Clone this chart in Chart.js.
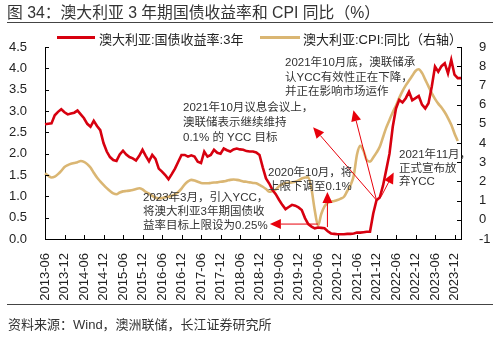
<!DOCTYPE html>
<html>
<head>
<meta charset="utf-8">
<script src="https://cdn.jsdelivr.net/npm/chart.js@4"></script>
<style>
  body { margin: 0; width: 500px; height: 338px; position: relative; background: #fff; overflow: hidden;
         font-family: 'Liberation Sans', 'Noto Sans CJK SC', sans-serif; color: #222; }
  #wrap { position: absolute; left: 0; top: 0; width: 500px; height: 338px; }
  .title { position: absolute; left: 7px; top: 0px; font-size: 15.8px; color: #333; white-space: nowrap; }
  .rule { position: absolute; left: 7px; width: 486px; height: 1px; background: #444; }
  .source { position: absolute; left: 8px; top: 314px; font-size: 13px; color: #333; white-space: nowrap; }
  .leg-line { position: absolute; top: 36px; height: 3px; }
  .leg-text { position: absolute; top: 29px; font-size: 13px; color: #222; white-space: nowrap; }
</style>
</head>
<body>
<div id="wrap"><canvas id="chart" width="500" height="338"></canvas></div>
<div class="title">图 34：澳大利亚 3 年期国债收益率和 CPI 同比（%）</div>
<div class="rule" style="top:22px"></div>
<div class="leg-line" style="left:57px;width:38px;background:#d7000f"></div>
<div class="leg-text" style="left:99px">澳大利亚:国债收益率:3年</div>
<div class="leg-line" style="left:260px;width:40px;background:#dab673"></div>
<div class="leg-text" style="left:303px">澳大利亚:CPI:同比（右轴）</div>
<div class="rule" style="top:304px"></div>
<div class="source">资料来源：Wind，澳洲联储，长江证券研究所</div>
<script>
// 数据：月度，2013-06 至 2024-02
const startYear = 2013, startMonth = 6, monthCount = 129;
const months = [];
for (let i = 0; i < monthCount; i++) {
  const m = startMonth - 1 + i;
  const y = startYear + Math.floor(m / 12);
  months.push(y + '-' + String(m % 12 + 1).padStart(2, '0'));
}

const xTickLabels = ['2013-06','2013-12','2014-06','2014-12','2015-06','2015-12','2016-06','2016-12',
  '2017-06','2017-12','2018-06','2018-12','2019-06','2019-12','2020-06','2020-12','2021-06','2021-12',
  '2022-06','2022-12','2023-06','2023-12'];
const leftTicks = [0, 0.5, 1, 1.5, 2, 2.5, 3, 3.5, 4, 4.5];
const rightTicks = [-1, 0, 1, 2, 3, 4, 5, 6, 7, 8, 9];

// 澳大利亚:国债收益率:3年 (%)
const bondYield = [
  2.69,2.70,2.71,2.90,2.98,3.04,2.97,2.92,2.94,2.96,
  3.01,2.92,2.83,2.70,2.63,2.77,2.65,2.55,2.25,2.05,
  1.92,1.85,1.83,1.98,2.07,1.98,1.92,1.89,1.84,1.95,
  2.09,1.95,1.82,1.97,1.88,1.65,1.58,1.50,1.40,1.52,
  1.65,1.81,1.97,1.97,1.93,1.96,1.93,1.81,1.78,2.05,
  1.93,1.97,2.09,2.02,2.00,2.12,2.08,2.05,2.10,2.12,
  2.10,2.09,2.06,2.05,2.05,2.03,1.97,1.68,1.42,1.30,
  1.15,1.05,0.92,0.80,0.70,0.75,0.80,0.78,0.74,0.68,
  0.49,0.35,0.29,0.25,0.27,0.26,0.25,0.18,0.13,0.12,
  0.11,0.11,0.11,0.12,0.12,0.13,0.15,0.15,0.16,0.17,
  0.17,0.60,0.91,0.97,1.25,1.62,2.00,2.63,3.06,3.26,
  3.20,3.30,3.45,3.25,3.30,3.35,3.15,3.06,3.18,3.57,
  4.04,3.92,4.05,4.12,3.88,4.20,3.85,3.77,3.77
];

// 澳大利亚:CPI:同比 (%)，右轴
const cpiYoY = [
  2.42,2.30,2.20,2.25,2.38,2.55,2.75,2.85,2.92,2.96,
  3.00,3.06,3.02,2.90,2.72,2.45,2.20,2.00,1.82,1.65,
  1.50,1.38,1.33,1.42,1.48,1.50,1.52,1.55,1.60,1.64,
  1.58,1.45,1.36,1.25,1.15,1.12,1.13,1.18,1.20,1.25,
  1.32,1.45,1.62,1.85,2.00,2.08,2.05,1.98,1.92,1.90,
  1.90,1.92,1.94,1.95,1.98,2.00,2.04,2.08,2.10,2.08,
  2.05,2.00,1.98,1.95,1.92,1.90,1.82,1.72,1.60,1.46,
  1.50,1.58,1.75,1.85,1.92,1.93,1.95,1.98,2.05,2.15,
  2.20,2.22,1.60,0.50,-0.30,0.30,0.70,0.88,0.94,0.98,
  1.03,1.10,1.20,1.50,1.80,2.30,3.40,3.85,3.60,3.11,
  3.03,3.25,3.50,3.80,4.30,4.80,5.20,5.60,5.95,6.35,
  6.70,7.00,7.25,7.50,7.75,7.84,7.65,7.30,6.95,6.60,
  6.30,6.05,5.85,5.60,5.30,4.95,4.50,4.10,null
];

// 标注：文字 + 箭头（箭头用月份序号和左轴数值定位）
const notes = [
  { lines: ['2021年10月议息会议上，', '澳联储表示继续维持', '0.1% 的 YCC 目标'], x: 183, y: 108, gap: 15 },
  { lines: ['2021年10月底，澳联储承', '认YCC有效性正在下降，', '并正在影响市场运作'], x: 285, y: 63, gap: 14.5 },
  { lines: ['2021年11月，', '正式宣布放', '弃YCC'], x: 399, y: 155, gap: 13.5 },
  { lines: ['2020年10月，将', '上限下调至0.1%'], x: 268, y: 173, gap: 14 },
  { lines: ['2023年3月，引入YCC，', '将澳大利亚3年期国债收', '益率目标上限设为0.25%'], x: 143, y: 198, gap: 14 }
];
const arrows = [
  { from: [102, 0.91], to: [82.5, 2.62] },
  { from: [102, 0.91], to: [94.9, 3.02] },
  { from: [103.4, 0.99], to: [107.3, 1.56] },
  { from: [86.9, 0.28], to: [86.9, 1.10] },
  { from: [84, 0.35], to: [69.2, 0.35] }
];

const FONT = "'Liberation Sans', 'Noto Sans CJK SC', sans-serif";

const extras = {
  id: 'extras',
  afterDatasetsDraw(chart) {
    const { ctx, chartArea: a, scales } = chart;
    const x = scales.x, yl = scales.y, yr = scales.y1;
    ctx.save();
    // 向内的刻度线
    ctx.strokeStyle = '#000';
    ctx.lineWidth = 1;
    ctx.beginPath();
    leftTicks.forEach(v => { const py = Math.round(yl.getPixelForValue(v)) + 0.5; ctx.moveTo(a.left, py); ctx.lineTo(a.left + 4, py); });
    rightTicks.forEach(v => { const py = Math.round(yr.getPixelForValue(v)) + 0.5; ctx.moveTo(a.right, py); ctx.lineTo(a.right - 4, py); });
    xTickLabels.forEach(l => { const px = Math.round(x.getPixelForValue(months.indexOf(l))) + 0.5; ctx.moveTo(px, a.bottom); ctx.lineTo(px, a.bottom - 4); });
    ctx.stroke();

    // 箭头
    ctx.strokeStyle = '#e8000b';
    ctx.fillStyle = '#e8000b';
    arrows.forEach(ar => {
      const x0 = x.getPixelForValue(ar.from[0]), y0 = yl.getPixelForValue(ar.from[1]);
      const x1 = x.getPixelForValue(ar.to[0]), y1 = yl.getPixelForValue(ar.to[1]);
      const ang = Math.atan2(y1 - y0, x1 - x0);
      const len = 11, half = 5;
      const bx = x1 - len * Math.cos(ang), by = y1 - len * Math.sin(ang);
      ctx.lineWidth = 1;
      ctx.beginPath(); ctx.moveTo(x0, y0); ctx.lineTo(bx, by); ctx.stroke();
      ctx.beginPath();
      ctx.moveTo(x1, y1);
      ctx.lineTo(bx + half * Math.sin(ang), by - half * Math.cos(ang));
      ctx.lineTo(bx - half * Math.sin(ang), by + half * Math.cos(ang));
      ctx.closePath(); ctx.fill();
    });

    // 标注文字
    ctx.fillStyle = '#333';
    ctx.font = '11.5px ' + FONT;
    ctx.textBaseline = 'middle';
    ctx.textAlign = 'left';
    notes.forEach(n => n.lines.forEach((t, i) => ctx.fillText(t, n.x, n.y + i * n.gap)));
    ctx.restore();
  }
};

new Chart(document.getElementById('chart'), {
  type: 'line',
  data: {
    labels: months,
    datasets: [
      { label: '澳大利亚:国债收益率:3年', data: bondYield, yAxisID: 'y', borderColor: '#d7000f',
        borderWidth: 2.6, pointRadius: 0, tension: 0, order: 1 },
      { label: '澳大利亚:CPI:同比（右轴）', data: cpiYoY, yAxisID: 'y1', borderColor: '#dab673',
        borderWidth: 2.6, pointRadius: 0, cubicInterpolationMode: 'monotone', order: 2 }
    ]
  },
  options: {
    responsive: false,
    animation: false,
    layout: { padding: { top: 47, left: 0, right: 0, bottom: 0 } },
    plugins: { legend: { display: false }, tooltip: { enabled: false } },
    scales: {
      x: {
        grid: { display: false },
        border: { display: true, color: '#000', width: 1 },
        ticks: {
          autoSkip: false, maxRotation: 90, minRotation: 90, padding: 6,
          color: '#222', font: { size: 13, family: FONT },
          callback: (v, i) => xTickLabels.includes(months[i]) ? months[i] : null
        },
        afterFit: s => { s.height = 99; }
      },
      y: {
        position: 'left', min: 0, max: 4.5,
        grid: { display: false },
        border: { display: true, color: '#000', width: 1 },
        ticks: { stepSize: 0.5, color: '#222', font: { size: 13, family: FONT }, padding: 10,
                 callback: v => v.toFixed(1) },
        afterFit: s => { s.width = 45; }
      },
      y1: {
        position: 'right', min: -1, max: 9,
        grid: { display: false },
        border: { display: true, color: '#000', width: 1 },
        ticks: { stepSize: 1, color: '#222', font: { size: 13, family: FONT }, padding: 10 },
        afterFit: s => { s.width = 39; }
      }
    }
  },
  plugins: [extras]
});
</script>
</body>
</html>
